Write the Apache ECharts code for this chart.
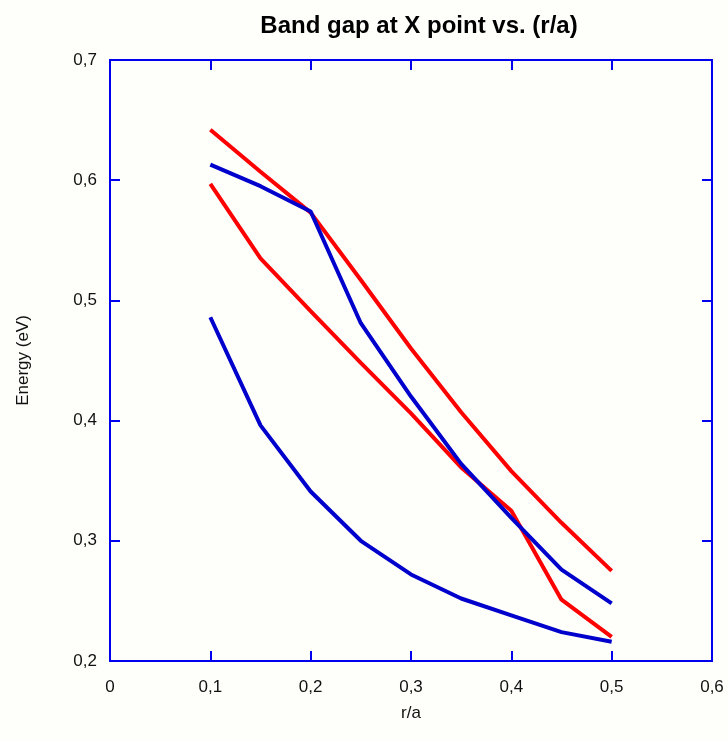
<!DOCTYPE html>
<html><head><meta charset="utf-8">
<script src="https://cdn.jsdelivr.net/npm/echarts@6/dist/echarts.min.js"></script>
<style>html,body{margin:0;padding:0;background:#fefefb;}#c{width:728px;height:740px;}</style>
</head><body><div id="c"></div>
<script>
const xValues = [0.1, 0.15, 0.2, 0.25, 0.3, 0.35, 0.4, 0.45, 0.5];
const redUpper = [0.642, 0.607, 0.573, 0.517, 0.460, 0.407, 0.358, 0.315, 0.275];
const redLower = [0.597, 0.535, 0.491, 0.448, 0.406, 0.361, 0.325, 0.251, 0.220];
const blueUpper = [0.613, 0.595, 0.574, 0.481, 0.420, 0.364, 0.319, 0.276, 0.248];
const blueLower = [0.486, 0.396, 0.341, 0.300, 0.272, 0.252, 0.238, 0.224, 0.216];
const titleText = 'Band gap at X point vs. (r/a)';
const xName = 'r/a';
const yName = 'Energy (eV)';

const fmt = v => (Math.abs(v) < 1e-9 ? '0' : (+v).toFixed(1).replace('.', ','));
const pairs = ys => xValues.map((x, i) => [x, ys[i]]);
const FRAME = '#0000ee';
const RED = '#ff0000';
const BLUE = '#0000cc';
const lbl = {fontFamily: 'Liberation Sans', fontSize: 17, color: '#111'};

function series(ys, color) {
  return {type: 'line', data: pairs(ys), symbol: 'none', smooth: false,
    lineStyle: {color: color, width: 4}, itemStyle: {color: color}, z: 3};
}

const chart = echarts.init(document.getElementById('c'), null, {renderer: 'canvas'});
chart.setOption({
  backgroundColor: '#fefefb',
  animation: false,
  title: {text: titleText, left: 414, top: 9, textAlign: 'center',
    textStyle: {fontFamily: 'Liberation Sans', fontWeight: 'bold', fontSize: 24, color: '#000'}},
  grid: {left: 110, right: 16, top: 60, bottom: 79, show: true, borderColor: FRAME, borderWidth: 2, backgroundColor: 'transparent'},
  xAxis: [
    {type: 'value', min: 0, max: 0.6, interval: 0.1, position: 'bottom',
     name: xName, nameLocation: 'middle', nameGap: 44, nameTextStyle: lbl,
     axisLine: {show: true, onZero: false, lineStyle: {color: FRAME, width: 2}},
     axisTick: {show: true, inside: true, length: 10, lineStyle: {color: FRAME, width: 2}},
     axisLabel: Object.assign({formatter: fmt, margin: 18}, lbl),
     splitLine: {show: false}},
    {type: 'value', min: 0, max: 0.6, interval: 0.1, position: 'top',
     axisLine: {show: true, onZero: false, lineStyle: {color: FRAME, width: 2}},
     axisTick: {show: true, inside: true, length: 10, lineStyle: {color: FRAME, width: 2}},
     axisLabel: {show: false}, splitLine: {show: false}}
  ],
  yAxis: [
    {type: 'value', min: 0.2, max: 0.7, interval: 0.1, position: 'left',
     name: yName, nameLocation: 'middle', nameGap: 78, nameRotate: 90, nameTextStyle: lbl,
     axisLine: {show: true, onZero: false, lineStyle: {color: FRAME, width: 2}},
     axisTick: {show: true, inside: true, length: 10, lineStyle: {color: FRAME, width: 2}},
     axisLabel: Object.assign({formatter: fmt, margin: 13}, lbl),
     splitLine: {show: false}},
    {type: 'value', min: 0.2, max: 0.7, interval: 0.1, position: 'right',
     axisLine: {show: true, onZero: false, lineStyle: {color: FRAME, width: 2}},
     axisTick: {show: true, inside: true, length: 10, lineStyle: {color: FRAME, width: 2}},
     axisLabel: {show: false}, splitLine: {show: false}}
  ],
  series: [
    series(redUpper, RED),
    series(redLower, RED),
    series(blueUpper, BLUE),
    series(blueLower, BLUE)
  ]
});
</script></body></html>
